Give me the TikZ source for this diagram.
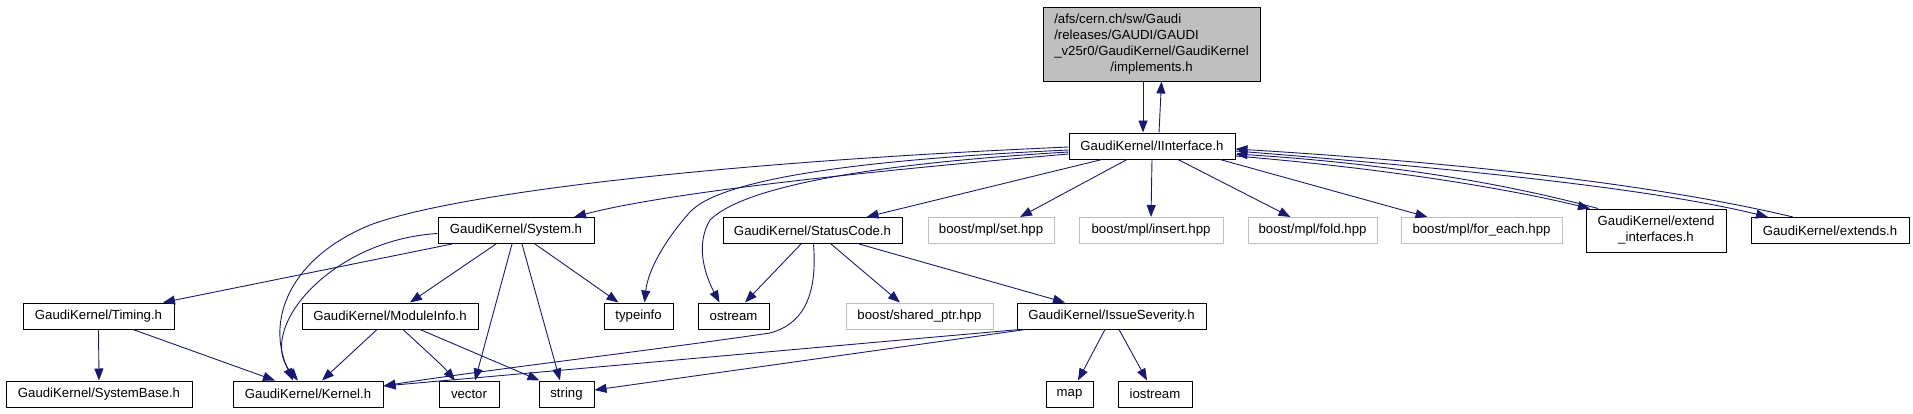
\documentclass[tikz,border=0pt]{standalone}
\usepackage{fontspec}
\setmainfont{Liberation Sans}
\usetikzlibrary{arrows.meta}
\definecolor{edgeblue}{HTML}{191970}
\definecolor{grey75}{HTML}{BFBFBF}

\begin{document}
\begin{tikzpicture}[x=1pt, y=-1pt,
    hdr/.style={draw=black, fill=white, line width=1pt, inner sep=0pt, minimum height=26pt,
                font=\fontsize{13.2}{16}\selectfont},
    sysinc/.style={hdr, draw=grey75},
    dep/.style={draw=edgeblue, line width=0.9pt, -{Triangle[length=12pt,width=9pt,fill=edgeblue]}}]
    \useasboundingbox (0,0) rectangle (1913,413);

    % the file itself
    \node[hdr, fill=grey75, minimum width=217pt, minimum height=74pt] (impl) at (1151.5,44)
        {\begin{tabular}{@{}l@{}}/afs/cern.ch/sw/Gaudi\\/releases/GAUDI/GAUDI\\\_v25r0/GaudiKernel/GaudiKernel\\
         \multicolumn{1}{@{}c@{}}{/implements.h}\end{tabular}};
    \node[hdr, minimum width=166pt] (iface) at (1152,146) {GaudiKernel/IInterface.h};

    % second row
    \node[hdr, minimum width=156pt] (system) at (516,230.5) {GaudiKernel/System.h};
    \node[hdr, minimum width=179pt] (status) at (812.5,230.5) {GaudiKernel/StatusCode.h};
    \node[sysinc, minimum width=126pt] (set) at (991,230.5) {boost/mpl/set.hpp};
    \node[sysinc, minimum width=144pt] (insert) at (1151,230.5) {boost/mpl/insert.hpp};
    \node[sysinc, minimum width=129pt] (fold) at (1312.5,230.5) {boost/mpl/fold.hpp};
    \node[sysinc, minimum width=161pt] (foreach) at (1481.5,230.5) {boost/mpl/for\_each.hpp};
    \node[hdr, align=center, minimum width=140pt, minimum height=43pt] (extint) at (1656,230.5)
        {GaudiKernel/extend\\\_interfaces.h};
    \node[hdr, minimum width=158pt] (extends) at (1830,230.5) {GaudiKernel/extends.h};

    % third row
    \node[hdr, minimum width=151pt] (timing) at (98.5,316) {GaudiKernel/Timing.h};
    \node[hdr, minimum width=176pt] (modinfo) at (390,316) {GaudiKernel/ModuleInfo.h};
    \node[hdr, minimum width=69pt] (typeinfo) at (638.5,316) {typeinfo};
    \node[hdr, minimum width=71pt] (ostream) at (733.5,316) {ostream};
    \node[sysinc, minimum width=147pt] (shared) at (919.5,316) {boost/shared\_ptr.hpp};
    \node[hdr, minimum width=189pt] (issue) at (1111.5,316) {GaudiKernel/IssueSeverity.h};

    % bottom row
    \node[hdr, minimum width=186pt] (sysbase) at (99,394) {GaudiKernel/SystemBase.h};
    \node[hdr, minimum width=150pt] (kernel) at (308,394) {GaudiKernel/Kernel.h};
    \node[hdr, minimum width=60pt] (vector) at (469,394) {vector};
    \node[hdr, minimum width=55pt] (string) at (566.5,394) {string};
    \node[hdr, minimum width=47pt] (map) at (1069.5,394) {map};
    \node[hdr, minimum width=74pt] (iostream) at (1155,394) {iostream};

    % implements.h <-> IInterface.h
    \draw[dep] ([xshift=-8.5pt]impl.south) -- ([xshift=-9pt]iface.north);
    \draw[dep] ([xshift=7pt]iface.north) -- ([xshift=10pt]impl.south);

    % from IInterface.h
    \draw[dep] ([yshift=-1pt]iface.west) .. controls (700,163) and (450,195) .. (370,225)
        .. controls (290,258) and (265,320) .. ([xshift=-15pt]kernel.north);
    \draw[dep] ([yshift=-4pt]iface.west) .. controls (850,160) and (720,180) .. (690,212)
        .. controls (665,240) and (648,270) .. ([xshift=6pt]typeinfo.north);
    \draw[dep] ([yshift=-6pt]iface.west) .. controls (850,165) and (740,190) .. (710,220)
        .. controls (695,245) and (705,275) .. ([xshift=-14pt]ostream.north);
    \draw[dep] ([yshift=-8pt]iface.west) .. controls (800,177) and (650,197) .. ([xshift=58pt]system.north);
    \draw[dep] ([xshift=-50pt]iface.south) -- ([xshift=54pt]status.north);
    \draw[dep] ([xshift=-25pt]iface.south) -- ([xshift=29pt]set.north);
    \draw[dep] (iface.south) -- (insert.north);
    \draw[dep] ([xshift=26pt]iface.south) -- ([xshift=-22pt]fold.north);
    \draw[dep] ([xshift=68pt]iface.south) -- ([xshift=-54pt]foreach.north);
    \draw[dep] ([yshift=-10pt]iface.east) .. controls (1380,168) and (1500,187) .. ([xshift=-66pt]extint.north);
    \draw[dep] ([yshift=-5pt]iface.east) .. controls (1450,168) and (1650,188) .. ([xshift=-62pt]extends.north);

    % back to IInterface.h
    \draw[dep] ([xshift=-58pt]extint.north) .. controls (1500,182) and (1380,163) .. ([yshift=-8pt]iface.east);
    \draw[dep] ([xshift=-37pt]extends.north) .. controls (1650,183) and (1450,162) .. ([yshift=-3pt]iface.east);

    % from System.h
    \draw[dep] ([yshift=-3pt]system.west) .. controls (330,240) and (255,330) .. ([xshift=-10pt]kernel.north);
    \draw[dep] ([xshift=-64pt]system.south) -- ([xshift=64.5pt]timing.north);
    \draw[dep] ([xshift=-20pt]system.south) -- ([xshift=20pt]modinfo.north);
    \draw[dep] ([xshift=-4pt]system.south) -- ([xshift=6pt]vector.north);
    \draw[dep] ([xshift=6pt]system.south) -- ([xshift=-6.5pt]string.north);
    \draw[dep] ([xshift=19pt]system.south) -- ([xshift=-20pt]typeinfo.north);

    % from StatusCode.h
    \draw[dep] ([xshift=-11.5pt]status.south) -- ([xshift=11.5pt]ostream.north);
    \draw[dep] ([xshift=1pt]status.south) .. controls (818,300) and (800,325) .. (770,333)
        .. controls (640,352) and (470,372) .. ([yshift=8pt]kernel.east);
    \draw[dep] ([xshift=18.5pt]status.south) -- ([xshift=-19.5pt]shared.north);
    \draw[dep] ([xshift=46.5pt]status.south) -- ([xshift=-46.5pt]issue.north);

    % from IssueSeverity.h
    \draw[dep] ([xshift=3pt]issue.south west) -- ([yshift=8pt]kernel.east);
    \draw[dep] ([xshift=9pt]issue.south west) -- ([yshift=4pt]string.east);
    \draw[dep] ([xshift=-6.5pt]issue.south) -- ([xshift=8.5pt]map.north);
    \draw[dep] ([xshift=7.5pt]issue.south) -- ([xshift=-8pt]iostream.north);

    % from Timing.h and ModuleInfo.h
    \draw[dep] (timing.south) -- (sysbase.north);
    \draw[dep] ([xshift=34.5pt]timing.south) -- ([xshift=-33pt]kernel.north);
    \draw[dep] ([xshift=-13pt]modinfo.south) -- ([xshift=14pt]kernel.north);
    \draw[dep] ([xshift=13pt]modinfo.south) .. controls (425,350) and (442,365) .. ([xshift=-14pt]vector.north);
    \draw[dep] ([xshift=30pt]modinfo.south) -- ([xshift=-27pt]string.north);
\end{tikzpicture}
\end{document}
